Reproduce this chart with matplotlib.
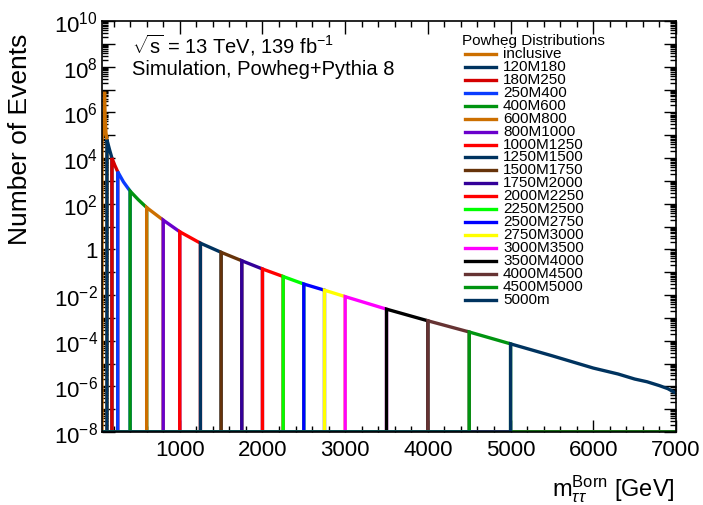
import numpy as np
import matplotlib
matplotlib.use("Agg")
import matplotlib.pyplot as plt
from matplotlib.lines import Line2D
from matplotlib.ticker import LogLocator, MultipleLocator, FuncFormatter, NullFormatter

plt.rcParams['font.family'] = ['Liberation Sans', 'DejaVu Sans']
plt.rcParams['mathtext.fontset'] = 'custom'
plt.rcParams['mathtext.rm'] = 'Liberation Sans'
plt.rcParams['mathtext.it'] = 'Liberation Sans:italic'
plt.rcParams['mathtext.bf'] = 'Liberation Sans:bold'

# sliced Powheg samples, mass points (GeV) and log10(events) along each slice
samples = ['inclusive', '120M180', '180M250', '250M400', '400M600', '600M800',
           '800M1000', '1000M1250', '1250M1500', '1500M1750', '1750M2000',
           '2000M2250', '2250M2500', '2500M2750', '2750M3000', '3000M3500',
           '3500M4000', '4000M4500', '4500M5000', '5000m']
colors = ['#cc6f00', '#00335f', '#d40000', '#0a3cff', '#009410', '#cc6f00',
          '#6a00cc', '#ff0000', '#00335f', '#66330a', '#330099',
          '#ff0000', '#00ff00', '#0000ff', '#ffff00', '#ff00ff',
          '#000000', '#663333', '#009410', '#00335f']
mass_pts = [
    [60, 75, 84, 89, 91, 93, 98, 108, 120],
    [120, 150, 180],
    [180, 215, 250],
    [250, 320, 400],
    [400, 500, 600],
    [600, 800],
    [800, 1000],
    [1000, 1250],
    [1250, 1500],
    [1500, 1750],
    [1750, 2000],
    [2000, 2250],
    [2250, 2500],
    [2500, 2750],
    [2750, 3000],
    [3000, 3500],
    [3500, 4000],
    [4000, 4500],
    [4500, 5000],
    [5000, 5500, 6000, 6300, 6500, 6650, 6800, 6900, 7000],
]
log_events = [
    [4.8, 5.1, 5.6, 6.6, 6.9, 6.6, 5.7, 5.1, 4.8],
    [4.8, 4.38, 4.0],
    [4.0, 3.68, 3.4],
    [3.4, 2.95, 2.55],
    [2.55, 2.17, 1.83],
    [1.83, 1.28],
    [1.28, 0.77],
    [0.77, 0.27],
    [0.27, -0.13],
    [-0.13, -0.5],
    [-0.5, -0.86],
    [-0.86, -1.19],
    [-1.19, -1.52],
    [-1.52, -1.79],
    [-1.79, -2.07],
    [-2.07, -2.62],
    [-2.62, -3.13],
    [-3.13, -3.62],
    [-3.62, -4.14],
    [-4.14, -4.66, -5.2, -5.46, -5.68, -5.8, -5.97, -6.1, -6.3],
]

xmin, xmax = 60, 7000
ymin, ymax = 1e-8, 1e10

W, H = 703, 506
fig = plt.figure(figsize=(W / 100, H / 100), dpi=100)
ax = fig.add_axes([102 / W, 1 - 433 / H, (676 - 102) / W, (433 - 22) / H])

for name, col, m, v in zip(samples, colors, mass_pts, log_events):
    x = [xmin, m[0]] + list(m)
    y = [ymin, ymin] + list(10.0 ** np.array(v))
    if m[-1] < xmax:
        x += [m[-1], xmax]
        y += [ymin, ymin]
    ax.plot(x, y, color=col, lw=2.4, solid_joinstyle='miter', label=name)

ax.set_yscale('log')
ax.set_xlim(xmin, xmax)
ax.set_ylim(ymin, ymax)

ax.xaxis.set_major_locator(MultipleLocator(1000))
ax.xaxis.set_minor_locator(MultipleLocator(200))
ax.yaxis.set_major_locator(LogLocator(base=10, numticks=100))
ax.yaxis.set_minor_locator(LogLocator(base=10, subs=np.arange(2, 10), numticks=100))
ax.yaxis.set_minor_formatter(NullFormatter())


def ylab(val, pos):
    e = int(round(np.log10(val)))
    if e % 2:
        return ''
    if e == 0:
        return '1'
    return r'$10^{%d}$' % e


ax.yaxis.set_major_formatter(FuncFormatter(ylab))
ax.tick_params(which='both', direction='in', top=True, right=True, width=1.0)
ax.tick_params(which='major', length=9, labelsize=16)
ax.tick_params(which='minor', length=4.5)
ax.tick_params(axis='x', pad=5)
ax.tick_params(axis='y', pad=3)
for s in ax.spines.values():
    s.set_linewidth(1.2)

fig.text(20 / W, 1 - 34 / H, 'Number of Events', rotation=90, ha='center',
         va='top', fontsize=19)
fig.text(675 / W, 1 - 496 / H, r'$\mathrm{m}_{\tau\tau}^{\mathrm{Born}}$ [GeV]',
         ha='right', va='baseline', fontsize=17)

fig.text(132 / W, 1 - 53 / H, r'$\sqrt{\mathrm{s}}$ = 13 TeV, 139 fb$^{-1}$',
         ha='left', va='baseline', fontsize=14.5)
fig.text(132 / W, 1 - 75 / H, 'Simulation, Powheg+Pythia 8',
         ha='left', va='baseline', fontsize=14.5)

# legend block drawn by hand for the tight row spacing
fig.text(462 / W, 1 - 41 / H, 'Powheg Distributions', ha='left', va='center',
         fontsize=11)
for k, (name, col) in enumerate(zip(samples, colors)):
    yk = 55 + 12.93 * k
    fig.add_artist(Line2D([465 / W, 496 / W], [1 - yk / H, 1 - yk / H],
                          color=col, lw=2.4, transform=fig.transFigure))
    fig.text(503 / W, 1 - (yk - 1) / H, name, ha='left', va='center',
             fontsize=11)

fig.savefig('out.png', dpi=100)
